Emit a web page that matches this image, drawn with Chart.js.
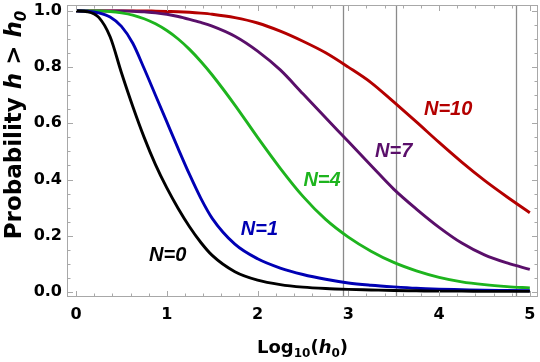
<!DOCTYPE html>
<html>
<head>
<meta charset="utf-8">
<script src="https://cdn.jsdelivr.net/npm/chart.js@4.4.0/dist/chart.umd.min.js"></script>
<style>
  html, body { margin: 0; padding: 0; background: #fff; }
  #wrap { width: 540px; height: 362px; position: relative; }
</style>
</head>
<body>
<div id="wrap"><canvas id="probChart"></canvas></div>
<script>
// x values: Log10(h0)
const logH0 = [0, 0.125, 0.25, 0.375, 0.5, 0.625, 0.75, 0.875, 1, 1.125, 1.25, 1.375, 1.5, 1.75, 2, 2.25, 2.5, 2.75, 3, 3.25, 3.5, 3.75, 4, 4.25, 4.5, 4.75, 5];

// Probability h > h0
const probN0  = [1.0, 0.997, 0.977, 0.908, 0.78, 0.66, 0.55, 0.453, 0.37, 0.297, 0.232, 0.176, 0.13, 0.072, 0.042, 0.026, 0.017, 0.012, 0.009, 0.007, 0.005, 0.004, 0.003, 0.003, 0.002, 0.002, 0.002];
const probN1  = [1.0, 0.999, 0.993, 0.978, 0.945, 0.885, 0.795, 0.70, 0.605, 0.51, 0.418, 0.333, 0.262, 0.17, 0.118, 0.085, 0.062, 0.045, 0.032, 0.024, 0.018, 0.013, 0.010, 0.008, 0.006, 0.005, 0.004];
const probN4  = [1.0, 1.0, 1.0, 0.998, 0.993, 0.985, 0.972, 0.954, 0.93, 0.90, 0.863, 0.82, 0.772, 0.665, 0.55, 0.44, 0.34, 0.258, 0.195, 0.145, 0.105, 0.075, 0.052, 0.036, 0.026, 0.019, 0.014];
const probN7  = [1.0, 1.0, 1.0, 1.0, 1.0, 0.999, 0.997, 0.993, 0.988, 0.98, 0.97, 0.959, 0.946, 0.91, 0.857, 0.79, 0.705, 0.62, 0.535, 0.45, 0.366, 0.295, 0.23, 0.174, 0.132, 0.103, 0.08];
const probN10 = [1.0, 1.0, 1.0, 1.0, 1.0, 1.0, 1.0, 0.999, 0.998, 0.997, 0.995, 0.992, 0.988, 0.976, 0.957, 0.928, 0.892, 0.851, 0.80, 0.745, 0.676, 0.605, 0.532, 0.462, 0.397, 0.338, 0.282];

const seriesNames = ['N=0', 'N=1', 'N=4', 'N=7', 'N=10'];
const xTicks = [0, 1, 2, 3, 4, 5];
const yTicks = [0, 0.2, 0.4, 0.6, 0.8, 1.0];
const markerLines = [2.94, 3.53, 4.85]; // gray vertical lines

const colors = ['#000000', '#0000b4', '#1eb41e', '#5a0f6a', '#b40000'];
// where each curve label sits, in data units
const labelSpots = [[1.01, 0.13], [2.02, 0.222], [2.71, 0.397], [3.50, 0.50], [4.10, 0.65]];

const allSeries = [probN0, probN1, probN4, probN7, probN10];
const toPoints = arr => arr.map((y, i) => ({ x: logH0[i], y: y }));

const frameColor = '#a8a8a8';

const framePlugin = {
    id: 'frame',
    beforeDatasetsDraw(chart) {
        const { ctx, chartArea: a, scales: { x } } = chart;
        ctx.save();
        ctx.strokeStyle = '#8a8a8a';
        ctx.lineWidth = 1.3;
        markerLines.forEach(v => {
            const px = Math.round(x.getPixelForValue(v)) + 0.5;
            ctx.beginPath();
            ctx.moveTo(px, a.top);
            ctx.lineTo(px, a.bottom);
            ctx.stroke();
        });
        ctx.restore();
    },
    afterDraw(chart) {
        const { ctx, chartArea: a, scales: { x, y } } = chart;
        ctx.save();
        // frame
        ctx.strokeStyle = frameColor;
        ctx.lineWidth = 1;
        ctx.strokeRect(a.left + 0.5, a.top + 0.5, a.right - a.left - 1, a.bottom - a.top - 1);

        // inward ticks on all sides
        const tick = (x1, y1, x2, y2) => { ctx.beginPath(); ctx.moveTo(x1, y1); ctx.lineTo(x2, y2); ctx.stroke(); };
        for (let i = 0; i <= 25; i++) {
            const v = i * 0.2;
            const px = Math.round(x.getPixelForValue(v)) + 0.5;
            const len = (i % 5 === 0) ? 6 : 3.5;
            tick(px, a.bottom, px, a.bottom - len);
            tick(px, a.top, px, a.top + len);
        }
        for (let i = 0; i <= 20; i++) {
            const v = i * 0.05;
            const py = Math.round(y.getPixelForValue(v)) + 0.5;
            const len = (i % 4 === 0) ? 6 : 3.5;
            tick(a.left, py, a.left + len, py);
            tick(a.right, py, a.right - len, py);
        }

        // curve labels
        ctx.font = 'italic bold 20px "Liberation Sans", Arial, sans-serif';
        ctx.textAlign = 'center';
        ctx.textBaseline = 'middle';
        seriesNames.forEach((name, i) => {
            ctx.fillStyle = colors[i];
            ctx.fillText(name, x.getPixelForValue(labelSpots[i][0]), y.getPixelForValue(labelSpots[i][1]));
        });

        // axis titles with subscripts
        const drawRich = (parts, cx, baseY) => {
            let w = 0;
            parts.forEach(p => { ctx.font = p.f; w += ctx.measureText(p.t).width; });
            let cur = cx - w / 2;
            parts.forEach(p => {
                ctx.font = p.f;
                ctx.fillText(p.t, cur, baseY + (p.dy || 0));
                cur += ctx.measureText(p.t).width;
            });
        };
        ctx.fillStyle = '#000';
        ctx.textAlign = 'left';
        ctx.textBaseline = 'alphabetic';
        const fam = '"DejaVu Sans", sans-serif';
        drawRich([
            { t: 'Log', f: 'bold 18px ' + fam },
            { t: '10', f: 'bold 12px ' + fam, dy: 4 },
            { t: '(', f: 'bold 18px ' + fam },
            { t: 'h', f: 'italic bold 18px ' + fam },
            { t: '0', f: 'bold 12px ' + fam, dy: 4 },
            { t: ')', f: 'bold 18px ' + fam }
        ], (a.left + a.right) / 2, 353);

        ctx.translate(21, 125);
        ctx.rotate(-Math.PI / 2);
        drawRich([
            { t: 'Probability ', f: 'bold 23px ' + fam },
            { t: 'h', f: 'italic bold 23px ' + fam },
            { t: ' > ', f: 'bold 23px ' + fam },
            { t: 'h', f: 'italic bold 23px ' + fam },
            { t: '0', f: 'italic bold 15px ' + fam, dy: 5 }
        ], 0, 0);
        ctx.restore();
    }
};

const tickFont = { family: 'DejaVu Sans', weight: 'bold', size: 16 };

const chart = new Chart(document.getElementById('probChart'), {
    type: 'line',
    data: {
        datasets: allSeries.map((s, i) => ({
            label: seriesNames[i],
            data: toPoints(s),
            borderColor: colors[i],
            borderWidth: 2.9,
            pointRadius: 0,
            fill: false,
            cubicInterpolationMode: 'monotone'
        }))
    },
    options: {
        responsive: true,
        maintainAspectRatio: false,
        animation: false,
        layout: { padding: { top: 5, right: 2, left: 0, bottom: 0 } },
        plugins: { legend: { display: false }, tooltip: { enabled: false } },
        scales: {
            x: {
                type: 'linear',
                min: -0.1,
                max: 5.09,
                grid: { display: false, drawTicks: false },
                border: { display: false },
                ticks: { font: tickFont, color: '#000', padding: 8, callback: v => String(v) },
                afterBuildTicks: s => { s.ticks = xTicks.map(v => ({ value: v })); },
                afterFit: s => { s.height = 65; s.paddingLeft = 0; s.paddingRight = 0; }
            },
            y: {
                min: -0.018,
                max: 1.021,
                grid: { display: false, drawTicks: false },
                border: { display: false },
                ticks: { font: tickFont, color: '#000', padding: 5, callback: v => v.toFixed(1) },
                afterBuildTicks: s => { s.ticks = yTicks.map(v => ({ value: v })); },
                afterFit: s => { s.width = 67; s.paddingTop = 0; s.paddingBottom = 0; }
            }
        }
    },
    plugins: [framePlugin]
});
</script>
</body>
</html>
